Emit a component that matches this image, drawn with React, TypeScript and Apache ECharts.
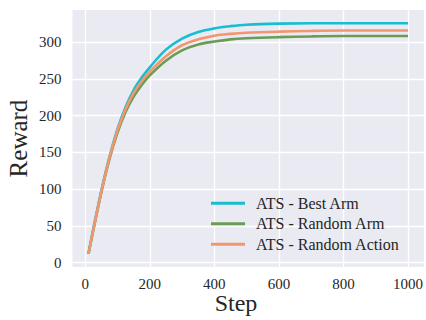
import React, { useEffect, useRef } from "react";
import * as echarts from "echarts";

const steps = [10, 25, 50, 75, 100, 125, 150, 175, 200, 250, 300, 350, 400, 450, 500, 600, 700, 800, 900, 1000];
const bestArm = [12, 46, 98, 144, 182, 212, 235, 252, 266, 290, 305, 314, 319, 322, 324, 325.5, 326, 326, 326, 326];
const randomArm = [12, 44, 96, 141, 177, 205, 226, 242, 255, 275, 289, 297, 301, 304, 305.5, 307, 308, 308.5, 308.5, 308.5];
const randomAction = [12, 45, 97, 143, 180, 209, 231, 247, 260, 281, 296, 304, 309, 311.5, 313, 314.5, 315.5, 316, 316, 316];
const seriesNames = ["ATS - Best Arm", "ATS - Random Arm", "ATS - Random Action"];
const seriesColors = ["#17becf", "#6a9c55", "#f29670"];
const xTicks = [0, 200, 400, 600, 800, 1000];
const yTicks = [0, 50, 100, 150, 200, 250, 300];

const FONT = "'Liberation Serif', 'Times New Roman', serif";
const TEXT = "#262626";

export default function App() {
  const ref = useRef<HTMLDivElement>(null);
  useEffect(() => {
    if (!ref.current) return;
    const chart = echarts.init(ref.current, undefined, { renderer: "svg" });
    const values = [bestArm, randomArm, randomAction];
    chart.setOption({
      animation: false,
      backgroundColor: "#ffffff",
      grid: { left: 72.5, right: 0, top: 10, bottom: 53, show: true, backgroundColor: "#eaeaf2", borderWidth: 0 },
      xAxis: {
        type: "value",
        min: -39.5,
        max: 1049.5,
        axisLine: { show: false },
        axisTick: { show: false, customValues: xTicks },
        axisLabel: {
          customValues: xTicks,
          formatter: (v: number) => String(v),
          margin: 9,
          fontFamily: FONT,
          fontSize: 15,
          color: TEXT,
        },
        splitLine: { show: true, lineStyle: { color: "#ffffff", width: 1.3 } },
      },
      yAxis: {
        type: "value",
        min: -6,
        max: 344,
        axisLine: { show: false },
        axisTick: { show: false, customValues: yTicks },
        axisLabel: {
          customValues: yTicks,
          formatter: (v: number) => String(v),
          margin: 11,
          fontFamily: FONT,
          fontSize: 15,
          color: TEXT,
        },
        splitLine: { show: true, lineStyle: { color: "#ffffff", width: 1.3 } },
      },
      legend: {
        orient: "vertical",
        left: 211,
        top: 193,
        padding: 0,
        itemGap: 0,
        itemWidth: 34,
        itemHeight: 3,
        icon: "rect",
        textStyle: { fontFamily: FONT, fontSize: 16, color: TEXT, lineHeight: 20.5, padding: [0, 0, 0, 6] },
        data: seriesNames,
      },
      series: seriesNames.map((name, i) => ({
        name,
        type: "line",
        data: steps.map((s, j) => [s, values[i][j]]),
        smooth: 0.35,
        showSymbol: false,
        symbol: "none",
        color: seriesColors[i],
        lineStyle: { color: seriesColors[i], width: 2.6 },
      })),
      graphic: [
        {
          type: "text",
          x: 236,
          y: 303,
          style: { text: "Step", fontFamily: FONT, fontSize: 24, fill: TEXT, align: "center", verticalAlign: "middle" },
        },
        {
          type: "text",
          x: 18.5,
          y: 138.5,
          rotation: Math.PI / 2,
          style: { text: "Reward", fontFamily: FONT, fontSize: 25, fill: TEXT, align: "center", verticalAlign: "middle" },
        },
      ],
    });
    return () => chart.dispose();
  }, []);
  return <div ref={ref} style={{ position: "fixed", left: 0, top: 0, width: 426, height: 320 }} />;
}
